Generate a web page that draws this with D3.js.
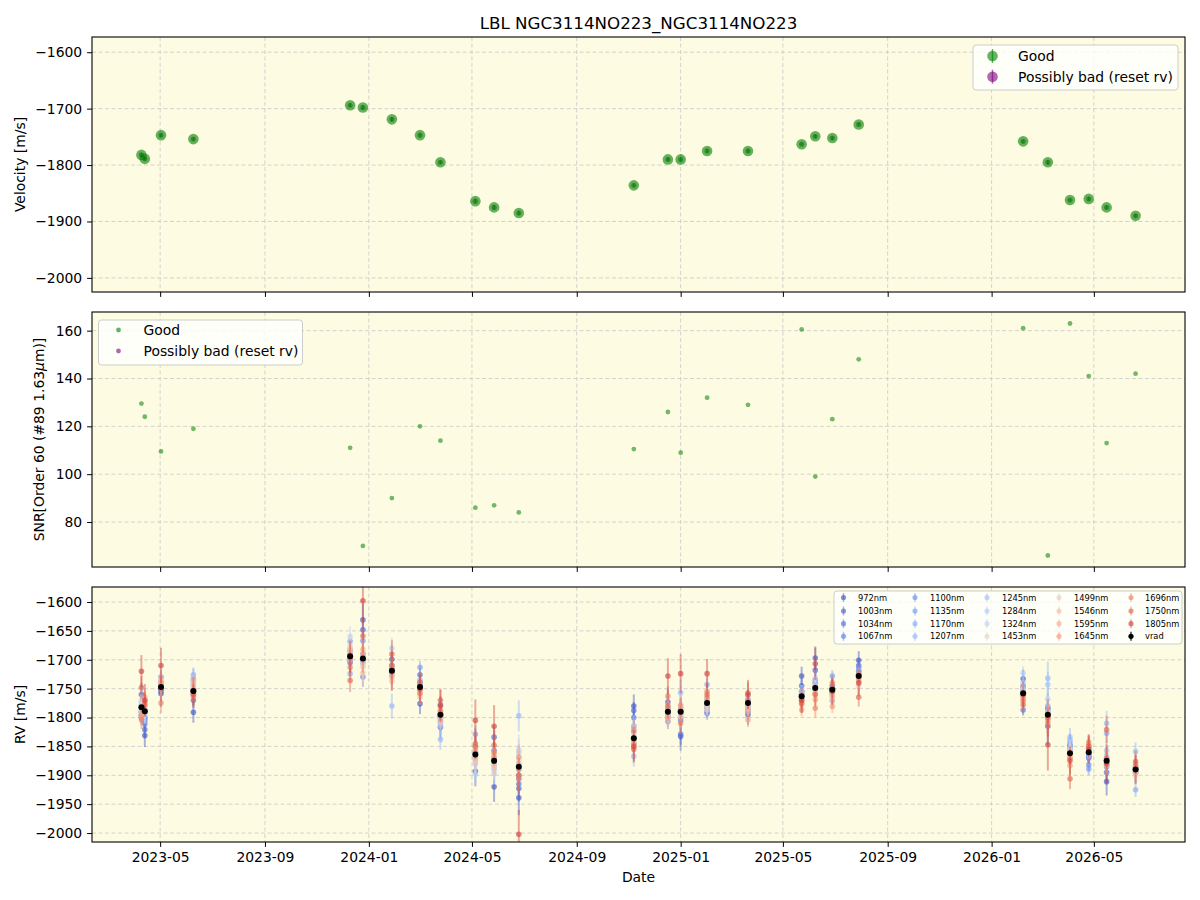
<!DOCTYPE html>
<html>
<head>
<meta charset="utf-8">
<script src="https://cdn.jsdelivr.net/npm/d3@7"></script>
<style>
  body { margin: 0; background: #fff; }
  svg { font-family: "DejaVu Sans", sans-serif; }
</style>
</head>
<body>
<svg id="chart" width="1200" height="900"></svg>
<script>
// observation epochs
const epochs = [
  "2023-04-09", "2023-04-13", "2023-05-02", "2023-06-09", "2023-12-10", "2023-12-25",
  "2024-01-28", "2024-03-01", "2024-03-25", "2024-05-05", "2024-05-27", "2024-06-25",
  "2024-11-07", "2024-12-17", "2025-01-01", "2025-02-01", "2025-03-21", "2025-05-23",
  "2025-06-08", "2025-06-28", "2025-07-29", "2026-02-07", "2026-03-08", "2026-04-03",
  "2026-04-25", "2026-05-16", "2026-06-19"
];
const velocity = [
  -1782, -1789, -1747, -1754, -1694, -1698, -1719, -1747, -1795, -1864, -1875, -1885,
  -1836, -1790, -1790, -1775, -1775, -1763, -1749, -1752, -1728, -1758, -1795, -1862,
  -1860, -1875, -1890
];
const velocityErr = [
  3, 3, 3, 3, 3, 4, 4, 3, 3, 4, 4, 4, 3, 3, 3, 3, 3, 2, 3, 3, 3, 2, 4, 2, 3, 3, 3
];
const snr = [
  129.5, 124, 109.5, 119, 111, 70, 90, 120, 114, 86, 87, 84,
  110.5, 126, 109, 132, 129, 160.5, 99, 123, 148, 161, 66, 163,
  141, 113, 142
];

// per-band RV (rows = epochs, columns = bands)
const bands = [972, 1003, 1034, 1067, 1100, 1135, 1170, 1207, 1245, 1284, 1324,
  1453, 1499, 1546, 1595, 1645, 1696, 1750, 1805];
const bandErr = [20, 15, 12, 12, 12, 12, 14, 18, 14, 15, 18, 20, 15, 14, 12, 14, 16, 20, 28];
const epochErrScale = [1.0, 1.0, 1.1, 0.9, 1.0, 1.4, 1.2, 0.9, 1.0, 1.3, 1.3, 1.5, 1.0, 1.1,
  1.2, 0.9, 0.9, 0.8, 1.0, 0.8, 0.8, 0.8, 1.6, 0.9, 0.9, 1.2, 0.9];
const bandRv = [
  [-1760, -1790, -1800, -1795, -1797, -1790, -1785, -1780, -1775, -1771, -1778, -1782, -1788, -1790, -1795, -1800, -1804, -1748, -1720],
  [-1831, -1821, -1811, -1805, -1800, -1802, -1795, -1790, -1788, -1785, -1792, -1790, -1785, -1780, -1775, -1765, -1772, -1778, -1770],
  [-1759, -1755, -1750, -1752, -1730, -1740, -1745, -1748, -1744, -1742, -1746, -1748, -1740, -1737, -1735, -1740, -1775, -1750, -1710],
  [-1791, -1770, -1760, -1755, -1745, -1735, -1726, -1732, -1740, -1745, -1750, -1748, -1742, -1737, -1752, -1758, -1764, -1760, -1755],
  [-1684, -1705, -1700, -1695, -1690, -1668, -1724, -1700, -1690, -1680, -1660, -1675, -1685, -1682, -1690, -1700, -1713, -1736, -1695],
  [-1631, -1648, -1700, -1730, -1667, -1690, -1705, -1700, -1695, -1700, -1705, -1710, -1712, -1723, -1682, -1690, -1700, -1659, -1598],
  [-1699, -1710, -1715, -1720, -1725, -1718, -1722, -1780, -1715, -1680, -1729, -1720, -1725, -1737, -1730, -1715, -1710, -1690, -1720],
  [-1776, -1726, -1745, -1750, -1740, -1713, -1735, -1745, -1750, -1748, -1752, -1755, -1760, -1765, -1758, -1750, -1758, -1739, -1750],
  [-1817, -1778, -1795, -1800, -1805, -1800, -1810, -1838, -1815, -1800, -1795, -1790, -1800, -1807, -1795, -1790, -1788, -1770, -1780],
  [-1893, -1850, -1860, -1870, -1865, -1829, -1860, -1870, -1880, -1898, -1875, -1870, -1865, -1874, -1860, -1855, -1850, -1845, -1805],
  [-1920, -1834, -1857, -1870, -1875, -1880, -1878, -1870, -1890, -1897, -1885, -1880, -1875, -1886, -1870, -1865, -1860, -1848, -1815],
  [-1939, -1923, -1915, -1905, -1900, -1890, -1880, -1797, -1870, -1860, -1856, -1875, -1880, -1885, -1890, -1868, -1907, -1900, -2002],
  [-1780, -1788, -1800, -1815, -1825, -1835, -1845, -1867, -1840, -1835, -1814, -1830, -1840, -1845, -1850, -1845, -1821, -1855, -1850],
  [-1773, -1785, -1790, -1795, -1807, -1800, -1795, -1790, -1785, -1780, -1790, -1795, -1800, -1790, -1785, -1801, -1763, -1780, -1728],
  [-1833, -1829, -1805, -1800, -1795, -1790, -1785, -1757, -1778, -1785, -1790, -1795, -1799, -1790, -1785, -1780, -1810, -1790, -1724],
  [-1780, -1785, -1790, -1793, -1780, -1775, -1743, -1770, -1766, -1775, -1780, -1787, -1780, -1775, -1770, -1765, -1755, -1760, -1724],
  [-1795, -1790, -1785, -1780, -1778, -1775, -1770, -1768, -1763, -1770, -1775, -1778, -1780, -1785, -1790, -1804, -1770, -1757, -1760],
  [-1728, -1745, -1755, -1760, -1765, -1760, -1755, -1758, -1755, -1760, -1765, -1768, -1770, -1775, -1778, -1787, -1769, -1775, -1770],
  [-1697, -1718, -1735, -1740, -1745, -1750, -1752, -1748, -1740, -1733, -1745, -1750, -1755, -1758, -1760, -1769, -1784, -1760, -1707],
  [-1745, -1750, -1755, -1760, -1755, -1728, -1750, -1758, -1772, -1763, -1755, -1758, -1760, -1765, -1770, -1781, -1740, -1750, -1755],
  [-1701, -1710, -1720, -1725, -1714, -1720, -1725, -1730, -1728, -1730, -1735, -1746, -1740, -1737, -1735, -1730, -1725, -1765, -1740],
  [-1733, -1746, -1787, -1760, -1755, -1750, -1752, -1755, -1740, -1723, -1750, -1755, -1760, -1765, -1772, -1765, -1770, -1778, -1760],
  [-1815, -1784, -1795, -1800, -1790, -1785, -1780, -1732, -1743, -1768, -1790, -1795, -1800, -1805, -1800, -1804, -1810, -1800, -1847],
  [-1849, -1855, -1860, -1858, -1850, -1845, -1840, -1834, -1850, -1855, -1860, -1856, -1860, -1865, -1870, -1883, -1870, -1906, -1875],
  [-1870, -1865, -1868, -1865, -1882, -1889, -1870, -1865, -1860, -1858, -1855, -1853, -1855, -1852, -1850, -1848, -1843, -1850, -1855],
  [-1911, -1895, -1885, -1880, -1875, -1870, -1827, -1810, -1857, -1865, -1870, -1875, -1880, -1883, -1880, -1875, -1870, -1821, -1880],
  [-1895, -1890, -1885, -1888, -1890, -1895, -1925, -1859, -1885, -1888, -1890, -1892, -1895, -1899, -1890, -1885, -1880, -1876, -1890]
];

const xTickLabels = ["2023-05", "2023-09", "2024-01", "2024-05", "2024-09",
  "2025-01", "2025-05", "2025-09", "2026-01", "2026-05"];
const velTicks = [-1600, -1700, -1800, -1900, -2000];
const snrTicks = [80, 100, 120, 140, 160];
const rvTicks = [-1600, -1650, -1700, -1750, -1800, -1850, -1900, -1950, -2000];

// coolwarm colormap anchors
const coolwarmPos = [0, 0.125, 0.25, 0.375, 0.5, 0.625, 0.75, 0.875, 1];
const coolwarmCol = ["#3b4cc0", "#6282ea", "#8db0fe", "#b8d0f9", "#dddddd",
  "#f4c4ad", "#f49a7b", "#de604d", "#b40426"];

const svg = d3.select("#chart");
const parse = d3.utcParse("%Y-%m-%d");
const dates = epochs.map(parse);
const fontTick = 13.9;

const x = d3.scaleUtc()
  .domain([parse("2023-02-10"), parse("2026-08-16")])
  .range([92, 1185]);

const panels = [
  { top: 37, bottom: 292, domain: [-2025, -1573], ticks: velTicks, label: "Velocity [m/s]", lx: 25 },
  { top: 312, bottom: 567, domain: [61.2, 167.8], ticks: snrTicks, label: null, lx: 44 },
  { top: 587, bottom: 842, domain: [-2015.5, -1574], ticks: rvTicks, label: "RV [m/s]", lx: 25 }
];
panels.forEach(p => p.y = d3.scaleLinear().domain(p.domain).range([p.bottom, p.top]));

const cw = d3.scaleLinear().domain(coolwarmPos).range(coolwarmCol).interpolate(d3.interpolateRgb);
const bandColor = w => cw((w - 972) / (1805 - 972) * 0.88 + 0.03);

// panel frames, grids and axes
panels.forEach((p, i) => {
  const g = svg.append("g");
  g.append("rect")
    .attr("x", 92).attr("y", p.top)
    .attr("width", 1185 - 92).attr("height", p.bottom - p.top)
    .attr("fill", "#fdfce2");

  const plot = g.append("g");
  plot.selectAll(".gy").data(p.ticks).join("line")
    .attr("x1", 92).attr("x2", 1185)
    .attr("y1", d => p.y(d)).attr("y2", d => p.y(d))
    .attr("stroke", "#c8c8c8").attr("stroke-width", 0.8).attr("stroke-dasharray", "4,2.5");
  plot.selectAll(".gx").data(xTickLabels.map(t => parse(t + "-01"))).join("line")
    .attr("x1", d => x(d)).attr("x2", d => x(d))
    .attr("y1", p.top).attr("y2", p.bottom)
    .attr("stroke", "#c8c8c8").attr("stroke-width", 0.8).attr("stroke-dasharray", "4,2.5");

  const yAxis = d3.axisLeft(p.y).tickValues(p.ticks).tickSize(4.9).tickPadding(4.9)
    .tickFormat(d3.format("d"));
  g.append("g").attr("transform", "translate(92,0)").call(yAxis)
    .call(a => a.select(".domain").remove())
    .call(a => a.selectAll("text").attr("font-size", fontTick).attr("fill", "#000")
      .attr("font-family", "DejaVu Sans"));

  const xAxis = d3.axisBottom(x).tickValues(xTickLabels.map(t => parse(t + "-01")))
    .tickSize(4.9).tickPadding(4.9).tickFormat(i === 2 ? d3.utcFormat("%Y-%m") : "");
  g.append("g").attr("transform", `translate(0,${p.bottom})`).call(xAxis)
    .call(a => a.select(".domain").remove())
    .call(a => a.selectAll("text").attr("font-size", fontTick).attr("fill", "#000")
      .attr("font-family", "DejaVu Sans"));

  p.plot = plot;
});

// top panel: velocity
const velP = panels[0];
const vg = velP.plot.append("g");
dates.forEach((d, i) => {
  vg.append("line")
    .attr("x1", x(d)).attr("x2", x(d))
    .attr("y1", velP.y(velocity[i] - velocityErr[i])).attr("y2", velP.y(velocity[i] + velocityErr[i]))
    .attr("stroke", "green").attr("stroke-width", 1.5).attr("opacity", 0.6);
});
vg.selectAll(".vo").data(dates).join("circle")
  .attr("cx", d => x(d)).attr("cy", (d, i) => velP.y(velocity[i]))
  .attr("r", 5.3).attr("fill", "green").attr("opacity", 0.6);
vg.selectAll(".vi").data(dates).join("circle")
  .attr("cx", d => x(d)).attr("cy", (d, i) => velP.y(velocity[i]))
  .attr("r", 2.6).attr("fill", "#0a6a0a").attr("opacity", 0.5);

// middle panel: SNR
const snrP = panels[1];
snrP.plot.selectAll(".snr").data(dates).join("circle")
  .attr("cx", d => x(d)).attr("cy", (d, i) => snrP.y(snr[i]))
  .attr("r", 2.4).attr("fill", "green").attr("opacity", 0.55);

// bottom panel: per-band RV
const rvP = panels[2];
svg.append("clipPath").attr("id", "rvclip").append("rect")
  .attr("x", 92).attr("y", rvP.top).attr("width", 1185 - 92).attr("height", rvP.bottom - rvP.top);
const bg = rvP.plot.append("g").attr("clip-path", "url(#rvclip)");
bands.forEach((w, b) => {
  const col = bandColor(w);
  const gb = bg.append("g");
  dates.forEach((d, i) => {
    const v = bandRv[i][b];
    const e = bandErr[b] * epochErrScale[i];
    gb.append("line")
      .attr("x1", x(d)).attr("x2", x(d))
      .attr("y1", rvP.y(v - e)).attr("y2", rvP.y(v + e))
      .attr("stroke", col).attr("stroke-width", 2).attr("opacity", 0.45);
    gb.append("circle")
      .attr("cx", x(d)).attr("cy", rvP.y(v))
      .attr("r", 2.8).attr("fill", col).attr("opacity", 0.65);
  });
});
dates.forEach((d, i) => {
  bg.append("line")
    .attr("x1", x(d)).attr("x2", x(d))
    .attr("y1", rvP.y(velocity[i] - velocityErr[i])).attr("y2", rvP.y(velocity[i] + velocityErr[i]))
    .attr("stroke", "#000").attr("stroke-width", 1.5);
  bg.append("circle")
    .attr("cx", x(d)).attr("cy", rvP.y(velocity[i]))
    .attr("r", 3).attr("fill", "#000");
});

// frames on top
panels.forEach(p => {
  svg.append("rect")
    .attr("x", 92).attr("y", p.top)
    .attr("width", 1185 - 92).attr("height", p.bottom - p.top)
    .attr("fill", "none").attr("stroke", "#000").attr("stroke-width", 1.1);
});

// title and axis labels
svg.append("text").attr("x", 638.5).attr("y", 29).attr("text-anchor", "middle")
  .attr("font-size", 16.7).text("LBL NGC3114NO223_NGC3114NO223");
svg.append("text").attr("x", 638.5).attr("y", 882).attr("text-anchor", "middle")
  .attr("font-size", fontTick).text("Date");
panels.forEach(p => {
  const cy = (p.top + p.bottom) / 2;
  const t = svg.append("text")
    .attr("transform", `translate(${p.lx},${cy}) rotate(-90)`)
    .attr("text-anchor", "middle").attr("font-size", fontTick);
  if (p.label) t.text(p.label);
  else {
    t.append("tspan").text("SNR[Order 60 (#89 1.63");
    t.append("tspan").attr("font-style", "italic").text("\u03bc");
    t.append("tspan").text("m)]");
  }
});

// legends
function legendBox(x0, y0, w, h) {
  svg.append("rect").attr("x", x0).attr("y", y0).attr("width", w).attr("height", h)
    .attr("rx", 3).attr("fill", "#fff").attr("fill-opacity", 0.8)
    .attr("stroke", "#cccccc").attr("stroke-width", 1);
}
const legendItems = [{ name: "Good", col: "green" }, { name: "Possibly bad (reset rv)", col: "purple" }];

legendBox(973, 45, 205, 45);
legendItems.forEach((it, k) => {
  const yy = 56 + k * 20.7;
  svg.append("line").attr("x1", 992.5).attr("x2", 992.5).attr("y1", yy - 7).attr("y2", yy + 7)
    .attr("stroke", it.col).attr("stroke-width", 1.5).attr("opacity", 0.6);
  svg.append("circle").attr("cx", 992.5).attr("cy", yy).attr("r", 5.3)
    .attr("fill", it.col).attr("opacity", 0.6);
  svg.append("text").attr("x", 1018).attr("y", yy + 5).attr("font-size", fontTick).text(it.name);
});

legendBox(98.5, 320, 204, 45);
legendItems.forEach((it, k) => {
  const yy = 330 + k * 21;
  svg.append("circle").attr("cx", 118.5).attr("cy", yy).attr("r", 2.4)
    .attr("fill", it.col).attr("opacity", 0.6);
  svg.append("text").attr("x", 143.5).attr("y", yy + 5).attr("font-size", fontTick).text(it.name);
});

legendBox(834, 591, 348, 53);
const legEntries = bands.map(w => ({ name: w + "nm", col: bandColor(w), a: 0.65 }))
  .concat([{ name: "vrad", col: "#000", a: 1 }]);
const colMarkX = [843.5, 915, 987, 1059, 1131];
const colTextX = [858, 930, 1002, 1074, 1145];
const rowY = [597.5, 611, 623.7, 636.3];
legEntries.forEach((e, k) => {
  const c = Math.floor(k / 4), r = k % 4;
  const mx = colMarkX[c], yy = rowY[r];
  svg.append("line").attr("x1", mx).attr("x2", mx).attr("y1", yy - 4.5).attr("y2", yy + 4.5)
    .attr("stroke", e.col).attr("stroke-width", 1.5).attr("opacity", e.a * 0.75);
  svg.append("circle").attr("cx", mx).attr("cy", yy).attr("r", 2.6)
    .attr("fill", e.col).attr("opacity", e.a);
  svg.append("text").attr("x", colTextX[c]).attr("y", yy + 3).attr("font-size", 8.3).text(e.name);
});
</script>
</body>
</html>
